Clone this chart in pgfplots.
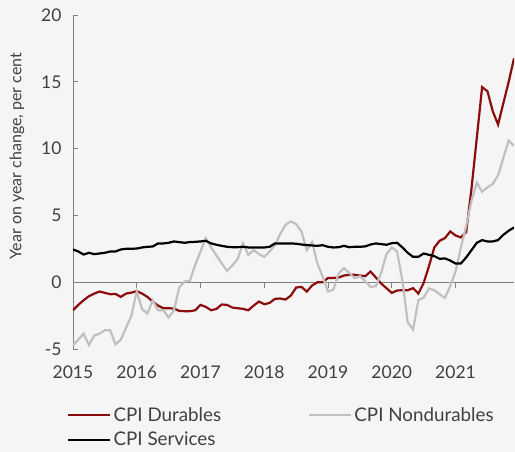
\documentclass[border=0pt]{standalone}
\usepackage{pgfplots}
\pgfplotsset{compat=1.18}
\usepackage{pgfplotstable}
\usepackage{fontspec}
\setmainfont{Lato}
\definecolor{dur}{RGB}{140,12,12}
\definecolor{nondur}{RGB}{192,192,192}
\definecolor{txt}{RGB}{64,64,64}
\definecolor{axl}{RGB}{128,128,128}
\definecolor{bg}{RGB}{245,245,245}

\pgfplotstableread{
i v
0 -2.1
1 -1.7
2 -1.35
3 -1.05
4 -0.85
5 -0.7
6 -0.8
7 -0.9
8 -0.88
9 -1.1
10 -0.85
11 -0.78
12 -0.67
13 -0.85
14 -1.1
15 -1.45
16 -1.75
17 -1.95
18 -1.95
19 -1.97
20 -2.15
21 -2.17
22 -2.17
23 -2.1
24 -1.7
25 -1.85
26 -2.1
27 -2.0
28 -1.67
29 -1.7
30 -1.9
31 -1.95
32 -2.0
33 -2.1
34 -1.75
35 -1.45
36 -1.65
37 -1.55
38 -1.25
39 -1.22
40 -1.3
41 -1.0
42 -0.4
43 -0.35
44 -0.7
45 -0.25
46 0.0
47 0.0
48 0.32
49 0.32
50 0.35
51 0.5
52 0.55
53 0.55
54 0.5
55 0.45
56 0.8
57 0.35
58 -0.1
59 -0.45
60 -0.8
61 -0.62
62 -0.6
63 -0.6
64 -0.45
65 -0.85
66 -0.05
67 1.2
68 2.6
69 3.1
70 3.3
71 3.8
72 3.5
73 3.35
74 3.75
75 7.0
76 10.8
77 14.6
78 14.3
79 12.8
80 11.8
81 13.4
82 15.0
83 16.75
}\dur

\pgfplotstableread{
i v
0 -4.7
1 -4.3
2 -3.85
3 -4.7
4 -4.0
5 -3.85
6 -3.6
7 -3.6
8 -4.65
9 -4.3
10 -3.4
11 -2.5
12 -0.7
13 -2.0
14 -2.35
15 -1.35
16 -2.1
17 -2.1
18 -2.65
19 -2.1
20 -0.4
21 0.05
22 0.1
23 1.3
24 2.3
25 3.3
26 2.6
27 2.0
28 1.4
29 0.85
30 1.25
31 1.75
32 2.9
33 2.05
34 2.4
35 2.1
36 1.9
37 2.3
38 2.75
39 3.6
40 4.3
41 4.55
42 4.35
43 3.8
44 2.4
45 3.0
46 1.4
47 0.4
48 -0.7
49 -0.55
50 0.65
51 1.05
52 0.7
53 0.3
54 0.45
55 0.08
56 -0.35
57 -0.3
58 0.7
59 2.1
60 2.6
61 2.3
62 0.1
63 -3.0
64 -3.55
65 -1.35
66 -1.15
67 -0.47
68 -0.6
69 -0.9
70 -1.17
71 -0.3
72 0.8
73 2.6
74 4.2
75 6.1
76 7.45
77 6.77
78 7.1
79 7.35
80 8.0
81 9.3
82 10.6
83 10.2
}\nondur

\pgfplotstableread{
i v
0 2.45
1 2.3
2 2.07
3 2.2
4 2.1
5 2.15
6 2.2
7 2.3
8 2.3
9 2.45
10 2.5
11 2.5
12 2.52
13 2.6
14 2.65
15 2.67
16 2.9
17 2.9
18 2.95
19 3.05
20 3.0
21 2.95
22 3.0
23 3.02
24 3.05
25 3.1
26 2.9
27 2.8
28 2.72
29 2.65
30 2.62
31 2.62
32 2.65
33 2.6
34 2.6
35 2.6
36 2.6
37 2.65
38 2.9
39 2.9
40 2.9
41 2.9
42 2.88
43 2.82
44 2.78
45 2.75
46 2.72
47 2.77
48 2.65
49 2.6
50 2.62
51 2.72
52 2.62
53 2.65
54 2.65
55 2.68
56 2.82
57 2.9
58 2.85
59 2.8
60 2.92
61 2.95
62 2.6
63 2.2
64 1.9
65 1.9
66 2.15
67 2.05
68 1.95
69 1.75
70 1.78
71 1.62
72 1.4
73 1.4
74 1.85
75 2.4
76 2.95
77 3.15
78 3.05
79 3.05
80 3.15
81 3.55
82 3.85
83 4.1
}\serv

\begin{document}
\begin{tikzpicture}
\fill[bg] (-73pt,-103pt) rectangle (442pt,349pt);
\useasboundingbox (-73pt,-103pt) rectangle (442pt,349pt);
\begin{axis}[
  at={(0pt,0pt)}, anchor=south west,
  scale only axis, width=441pt, height=334pt,
  xmin=2015, xmax=2021.9167, ymin=-5, ymax=20,
  axis x line=middle, axis y line=left,
  hide obscured x ticks=false,
  axis line style={-, draw=axl, line width=0.8pt},
  xtick={2015,...,2021}, ytick={-5,0,5,10,15,20},
  tick align=inside,
  major tick length=5.5pt,
  tick style={draw=axl, line width=0.8pt},
  xtick style={yshift=-5.5pt},
  /pgf/number format/1000 sep={},
  /pgf/number format/assume math mode=true,
  ticklabel style={font=\fontsize{17.5}{20}\selectfont, text=txt},
  xticklabel style={yshift=-80pt},
  yticklabel style={xshift=-8pt},
  legend columns=2,
  legend cell align=left,
  legend style={draw=none, fill=none, at={(-0.02,-0.235)}, anchor=west,
    font=\fontsize{18.8}{21}\selectfont, text=txt,
    row sep=5pt,
    /tikz/every even column/.append style={column sep=85pt}},
  legend image code/.code={\draw[#1] (0pt,0pt) -- (42pt,0pt);},
]
\addplot[dur, line width=2.2pt] table[x expr=2015+\thisrow{i}/12, y=v] {\dur};
\addlegendentry{CPI Durables}
\addplot[nondur, line width=2.2pt] table[x expr=2015+\thisrow{i}/12, y=v] {\nondur};
\addlegendentry{CPI Nondurables}
\addplot[black, line width=2.2pt] table[x expr=2015+\thisrow{i}/12, y=v] {\serv};
\addlegendentry{CPI Services}
\end{axis}
\node[rotate=90, font=\fontsize{16}{18}\selectfont, text=txt] at (-56pt,193pt) {Year on year change, per cent};
\end{tikzpicture}
\end{document}
